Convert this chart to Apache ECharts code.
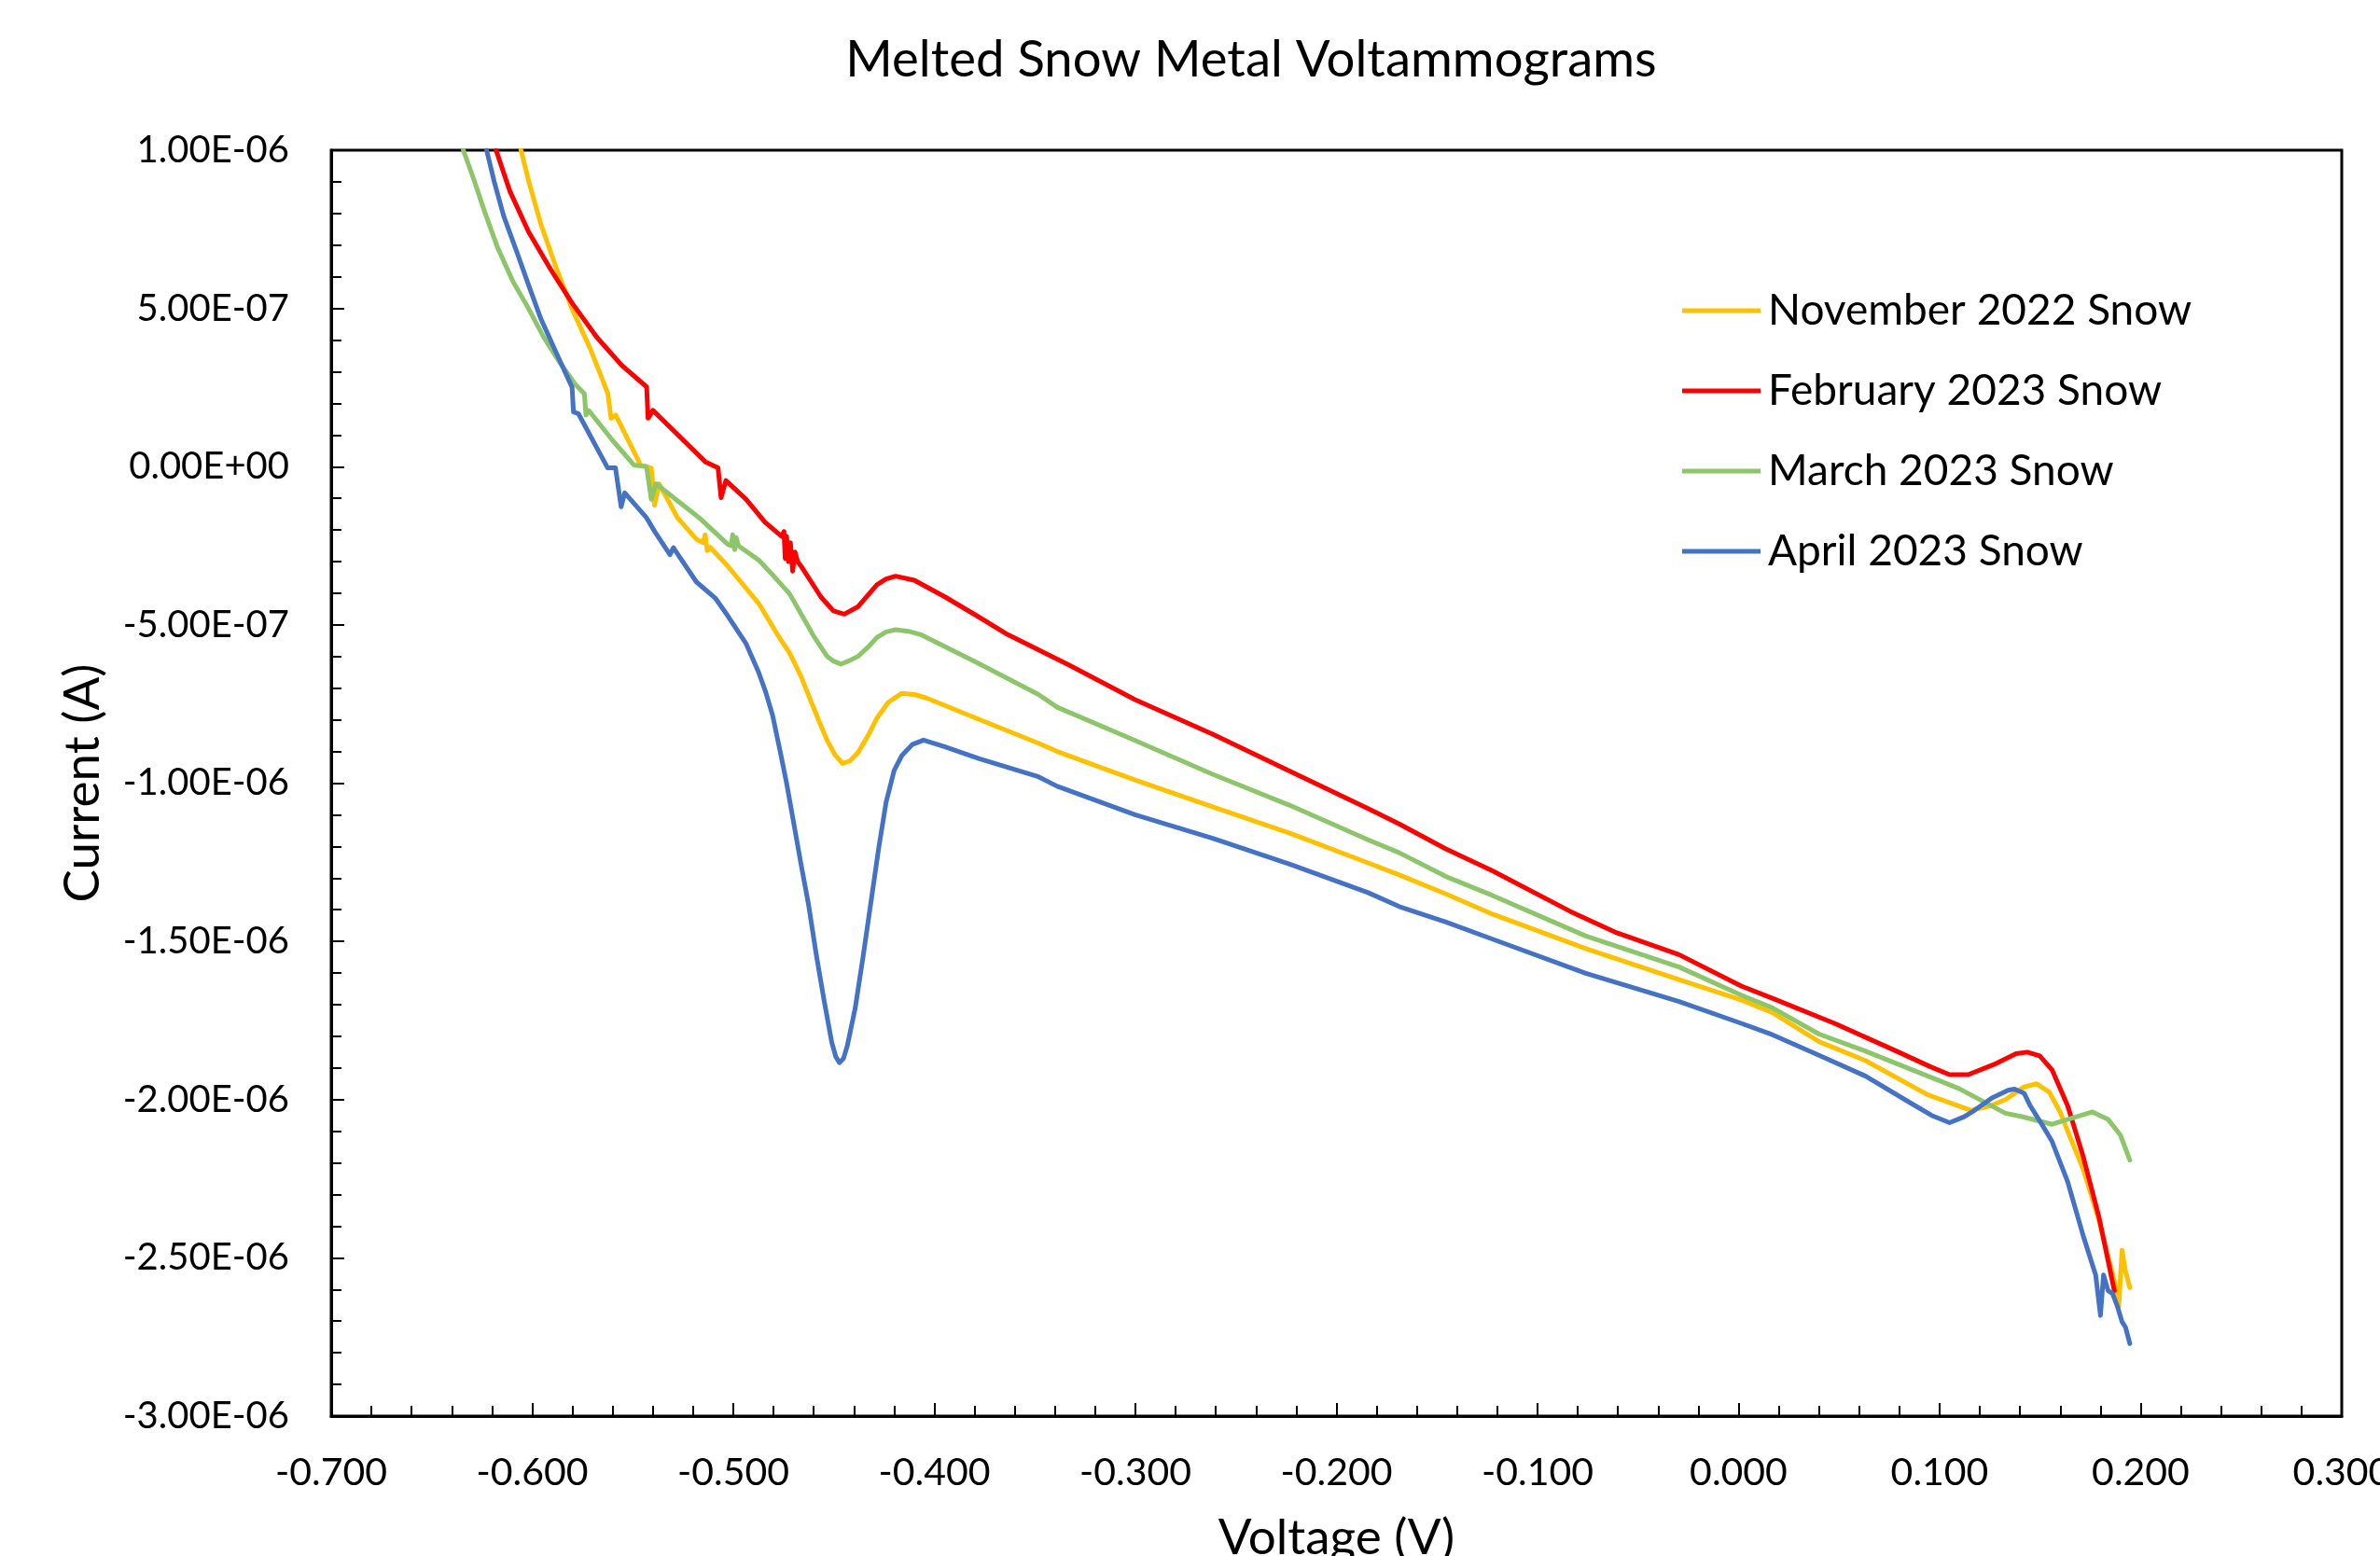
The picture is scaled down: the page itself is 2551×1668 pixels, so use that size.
<!DOCTYPE html>
<html>
<head>
<meta charset="utf-8">
<script src="https://cdn.jsdelivr.net/npm/echarts@6/dist/echarts.min.js"></script>
<style>
  html, body { margin: 0; padding: 0; background: #ffffff; }
  #chart { width: 2551px; height: 1668px; }
</style>
</head>
<body>
<div id="chart"></div>
<script>
// Currents are given in units of 1e-7 A
const CURRENT_UNIT = 1e-7;

const seriesNames = ['November 2022 Snow', 'February 2023 Snow', 'March 2023 Snow', 'April 2023 Snow'];

const novV = [-0.6056,-0.6017,-0.5956,-0.5879,-0.5801,-0.5709,-0.5624,-0.5608,-0.5585,-0.5461,-0.5408,-0.5392,-0.5369,-0.5277,-0.5184,-0.5150,-0.5140,-0.5130,-0.5115,-0.5028,-0.4874,-0.4781,-0.4720,-0.4665,-0.4611,-0.4570,-0.4534,-0.4495,-0.4457,-0.4420,-0.4379,-0.4330,-0.4286,-0.4230,-0.4162,-0.4100,-0.4039,-0.3791,-0.3482,-0.3389,-0.3002,-0.2616,-0.2229,-0.1843,-0.1688,-0.1456,-0.1224,-0.0760,-0.0296,0.0013,0.0168,0.0400,0.0632,0.0941,0.1157,0.1250,0.1327,0.1420,0.1482,0.1544,0.1600,0.1637,0.1714,0.1792,0.1869,0.1891,0.1907,0.1925,0.1946];
const novI = [10,9.0,7.64,6.25,4.97,3.69,2.31,1.53,1.63,0.05,-0.04,-1.22,-0.54,-1.62,-2.29,-2.40,-2.15,-2.65,-2.55,-3.14,-4.32,-5.3,-5.89,-6.6,-7.46,-8.1,-8.64,-9.1,-9.38,-9.3,-9.03,-8.5,-7.95,-7.45,-7.16,-7.2,-7.31,-7.95,-8.74,-9.0,-9.9,-10.75,-11.59,-12.52,-12.9,-13.5,-14.14,-15.23,-16.21,-16.85,-17.25,-18.17,-18.77,-19.85,-20.34,-20.2,-20.0,-19.6,-19.5,-19.75,-20.4,-21.0,-22.2,-23.8,-25.74,-26.53,-24.76,-25.45,-25.94];

const febV = [-0.6180,-0.6111,-0.6019,-0.5910,-0.5802,-0.5679,-0.5555,-0.5431,-0.5424,-0.5400,-0.5138,-0.5076,-0.5061,-0.5037,-0.4937,-0.4842,-0.4760,-0.4748,-0.4742,-0.4735,-0.4726,-0.4716,-0.4705,-0.4693,-0.4680,-0.4657,-0.4564,-0.4502,-0.4448,-0.4379,-0.4286,-0.4240,-0.4193,-0.4100,-0.3946,-0.3776,-0.3637,-0.3327,-0.3002,-0.2616,-0.2229,-0.1843,-0.1688,-0.1456,-0.1224,-0.0838,-0.0606,-0.0296,0.0013,0.0168,0.0477,0.0786,0.0950,0.1049,0.1142,0.1281,0.1380,0.1436,0.1498,0.1559,0.1637,0.1714,0.1792,0.1869];
const febI = [10,8.70,7.43,6.25,5.17,4.09,3.20,2.52,1.53,1.78,0.15,-0.04,-0.98,-0.44,-1.03,-1.76,-2.2,-2.05,-2.9,-2.2,-3.0,-2.4,-3.3,-2.7,-3.0,-3.2,-4.12,-4.56,-4.66,-4.42,-3.73,-3.55,-3.46,-3.59,-4.12,-4.76,-5.30,-6.28,-7.36,-8.45,-9.63,-10.80,-11.29,-12.08,-12.77,-14.05,-14.73,-15.42,-16.41,-16.8,-17.59,-18.47,-18.95,-19.21,-19.21,-18.86,-18.55,-18.5,-18.62,-19.06,-20.2,-21.8,-23.7,-26.04];

const marV = [-0.6343,-0.6297,-0.6235,-0.6173,-0.6096,-0.6019,-0.5942,-0.5864,-0.5787,-0.5741,-0.5733,-0.5718,-0.5602,-0.5494,-0.5432,-0.5408,-0.5385,-0.5169,-0.5028,-0.5010,-0.5003,-0.4993,-0.4985,-0.4975,-0.4874,-0.4800,-0.4720,-0.4650,-0.4596,-0.4534,-0.4500,-0.4465,-0.4420,-0.4379,-0.4330,-0.4286,-0.4240,-0.4193,-0.4130,-0.4070,-0.3791,-0.3482,-0.3389,-0.3002,-0.2616,-0.2229,-0.1843,-0.1688,-0.1456,-0.1224,-0.0760,-0.0296,0.0013,0.0168,0.0400,0.0632,0.1096,0.1327,0.1405,0.1559,0.1650,0.1760,0.1838,0.1899,0.1946];
const marI = [10,9.19,8.02,6.93,5.85,5.0,4.08,3.30,2.61,2.31,1.63,1.77,0.84,0.05,0.0,-1.03,-0.54,-1.62,-2.45,-2.5,-2.15,-2.62,-2.25,-2.5,-2.95,-3.45,-4.02,-4.8,-5.40,-5.99,-6.15,-6.24,-6.12,-5.99,-5.7,-5.40,-5.22,-5.15,-5.2,-5.30,-6.18,-7.2,-7.6,-8.65,-9.72,-10.71,-11.79,-12.2,-12.95,-13.55,-14.83,-15.81,-16.70,-17.1,-17.93,-18.47,-19.65,-20.43,-20.53,-20.78,-20.6,-20.39,-20.63,-21.12,-21.91];

const aprV = [-0.6227,-0.6189,-0.6142,-0.6080,-0.6019,-0.5957,-0.5880,-0.5802,-0.5795,-0.5771,-0.5625,-0.5586,-0.5558,-0.5540,-0.5431,-0.5390,-0.5315,-0.5298,-0.5184,-0.5090,-0.5028,-0.4936,-0.4874,-0.4840,-0.4805,-0.4770,-0.4735,-0.4704,-0.4665,-0.4626,-0.4588,-0.4549,-0.4510,-0.4490,-0.4472,-0.4452,-0.4433,-0.4394,-0.4355,-0.4317,-0.4278,-0.4240,-0.4200,-0.4162,-0.4110,-0.4054,-0.3950,-0.3776,-0.3482,-0.3389,-0.3002,-0.2616,-0.2229,-0.1843,-0.1688,-0.1456,-0.1224,-0.0760,-0.0296,0.0013,0.0168,0.0400,0.0632,0.0864,0.0960,0.1049,0.1120,0.1173,0.1260,0.1343,0.1373,0.1420,0.1451,0.1513,0.1559,0.1637,0.1714,0.1776,0.1800,0.1815,0.1838,0.1860,0.1884,0.1907,0.1925,0.1946];
const aprI = [10,9.0,7.92,6.84,5.75,4.67,3.59,2.51,1.73,1.68,-0.04,-0.04,-1.27,-0.83,-1.62,-2.06,-2.78,-2.56,-3.64,-4.15,-4.71,-5.6,-6.5,-7.1,-7.85,-8.9,-10.0,-11.1,-12.5,-13.83,-15.4,-16.85,-18.2,-18.65,-18.83,-18.7,-18.3,-17.12,-15.5,-13.83,-12.1,-10.6,-9.6,-9.13,-8.78,-8.64,-8.85,-9.23,-9.8,-10.1,-11.0,-11.74,-12.57,-13.46,-13.9,-14.39,-14.93,-16.01,-16.90,-17.59,-17.95,-18.6,-19.26,-20.14,-20.5,-20.73,-20.55,-20.34,-19.95,-19.7,-19.67,-19.80,-20.2,-20.83,-21.32,-22.6,-24.3,-25.54,-26.82,-25.54,-26.04,-26.13,-26.53,-27.02,-27.2,-27.71];

const xTickMin = -0.7, xTickMax = 0.3, xTickStep = 0.1;
const yTickMin = -3e-6, yTickMax = 1e-6, yTickStep = 5e-7;

const colors = ['#FFC000', '#FF0000', '#8DC66A', '#4472C4'];

function pairs(v, i) {
  return v.map(function (x, k) { return [x, i[k] * CURRENT_UNIT]; });
}

function sciLabel(val) {
  if (Math.abs(val) < 1e-15) return '0.00E+00';
  const s = val.toExponential(2);
  const parts = s.split('e');
  const sign = parts[1].charAt(0) === '-' ? '-' : '+';
  let d = parts[1].replace(/[+-]/, '');
  if (d.length < 2) d = '0' + d;
  return parts[0] + 'E' + sign + d;
}
function fixLabel(val) {
  const r = Math.round(val * 1000) / 1000;
  return (Math.abs(r) < 1e-9 ? 0 : r).toFixed(3);
}

const FONT = 'Lato';
const chart = echarts.init(document.getElementById('chart'), null, { renderer: 'canvas' });

const dataSets = [pairs(novV, novI), pairs(febV, febI), pairs(marV, marI), pairs(aprV, aprI)];

chart.setOption({
  animation: false,
  backgroundColor: '#ffffff',
  title: {
    text: 'Melted Snow Metal Voltammograms',
    left: 1341,
    top: 37,
    padding: 0,
    textAlign: 'center',
    textStyle: { fontFamily: FONT, fontSize: 54.5, fontWeight: 'normal', color: '#000' }
  },
  legend: {
    orient: 'vertical',
    left: 1803,
    top: 310,
    padding: 0,
    itemGap: 40,
    itemWidth: 84,
    itemHeight: 5,
    icon: 'rect',
    data: seriesNames,
    textStyle: { fontFamily: FONT, fontSize: 46, lineHeight: 46, color: '#000', padding: [0, 0, 0, 3] }
  },
  grid: {
    left: 355, right: 41, top: 161, bottom: 150,
    outerBoundsMode: 'none',
    containLabel: false,
    show: true, borderColor: '#000', borderWidth: 3, backgroundColor: 'transparent'
  },
  xAxis: {
    type: 'value',
    min: xTickMin, max: xTickMax, interval: xTickStep,
    name: 'Voltage (V)',
    nameLocation: 'middle',
    nameGap: 104,
    nameTextStyle: { fontFamily: FONT, fontSize: 53, color: '#000' },
    axisLine: { show: true, onZero: false, lineStyle: { color: '#000', width: 3 } },
    axisTick: { show: true, inside: true, length: 14, lineStyle: { color: '#000', width: 2 } },
    minorTick: { show: true, splitNumber: 5, length: 11, lineStyle: { color: '#000', width: 2 } },
    splitLine: { show: false },
    axisLabel: { fontFamily: FONT, fontSize: 41, color: '#000', margin: 40, formatter: fixLabel, showMaxLabel: true, showMinLabel: true, hideOverlap: false }
  },
  yAxis: {
    type: 'value',
    min: yTickMin, max: yTickMax, interval: yTickStep,
    name: 'Current (A)',
    nameLocation: 'middle',
    nameGap: 240,
    nameTextStyle: { fontFamily: FONT, fontSize: 53, color: '#000' },
    axisLine: { show: true, onZero: false, lineStyle: { color: '#000', width: 3 } },
    axisTick: { show: true, inside: true, length: 14, lineStyle: { color: '#000', width: 2 } },
    minorTick: { show: true, splitNumber: 5, length: 11, lineStyle: { color: '#000', width: 2 } },
    splitLine: { show: false },
    axisLabel: { fontFamily: FONT, fontSize: 40, color: '#000', margin: 45, formatter: sciLabel }
  },
  series: seriesNames.map(function (name, k) {
    return {
      name: name,
      type: 'line',
      data: dataSets[k],
      showSymbol: false,
      symbol: 'none',
      clip: true,
      color: colors[k],
      lineStyle: { color: colors[k], width: 5, join: 'round', cap: 'round' },
      itemStyle: { color: colors[k] }
    };
  })
});
</script>
</body>
</html>
